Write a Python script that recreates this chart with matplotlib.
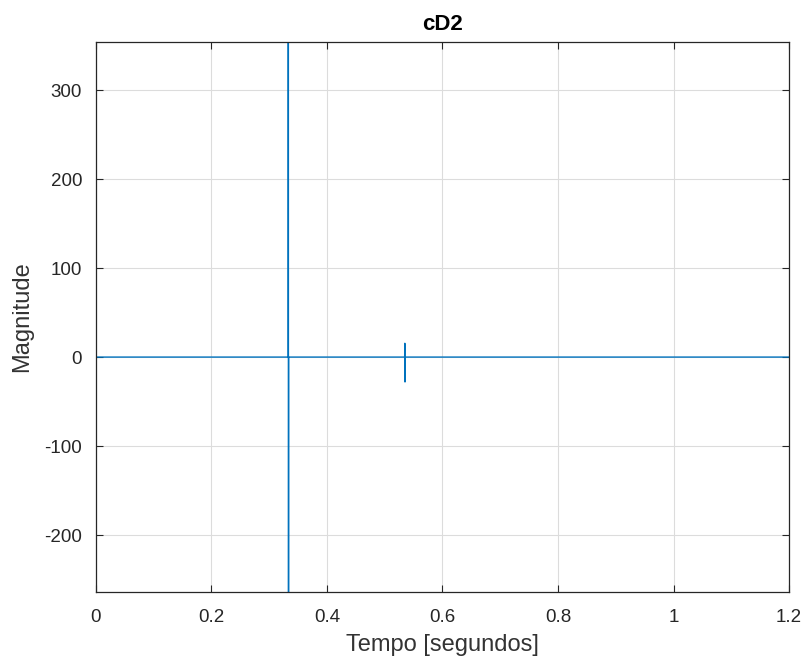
import matplotlib.pyplot as plt

# key points of the cD2 detail coefficients (baseline ~0, two spikes)
tempo = [0.0, 0.3328, 0.3331, 0.3334, 0.3337, 0.5345, 0.5348, 0.5351, 0.5354, 1.2]
magnitude = [0.0, 0.0, 900.0, -800.0, 0.0, 0.0, 15.5, -28.0, 0.0, 0.0]

x_ticks = [0, 0.2, 0.4, 0.6, 0.8, 1, 1.2]
x_tick_labels = ['0', '0.2', '0.4', '0.6', '0.8', '1', '1.2']
y_ticks = [-200, -100, 0, 100, 200, 300]

plt.rcParams['font.family'] = ['Liberation Sans', 'DejaVu Sans']
plt.rcParams['axes.unicode_minus'] = False

fig = plt.figure(figsize=(8.06, 6.64), dpi=100)
ax = fig.add_axes([0.119, 0.1084, 0.86, 0.8283])

ax.plot(tempo, magnitude, color='#0072BD', linewidth=1.0)

ax.set_xlim(0, 1.2)
ax.set_ylim(-264, 354)
ax.set_xticks(x_ticks)
ax.set_xticklabels(x_tick_labels)
ax.set_yticks(y_ticks)

ax.grid(True, color='#dcdcdc', linewidth=0.8)
ax.set_axisbelow(True)
ax.tick_params(direction='in', top=True, right=True, labelsize=13.5,
               colors='#262626', length=5, width=0.8)
ax.tick_params(axis='x', pad=12)
ax.tick_params(axis='y', pad=10)
for s in ax.spines.values():
    s.set_color('#262626')
    s.set_linewidth(0.9)

ax.set_title('cD2', fontsize=16, fontweight='bold', color='#000000', pad=9)
ax.set_xlabel('Tempo [segundos]', fontsize=17, color='#333333', labelpad=6)
ax.set_ylabel('Magnitude', fontsize=17, color='#333333', labelpad=8)

fig.savefig('out.png', dpi=100, facecolor='white')
